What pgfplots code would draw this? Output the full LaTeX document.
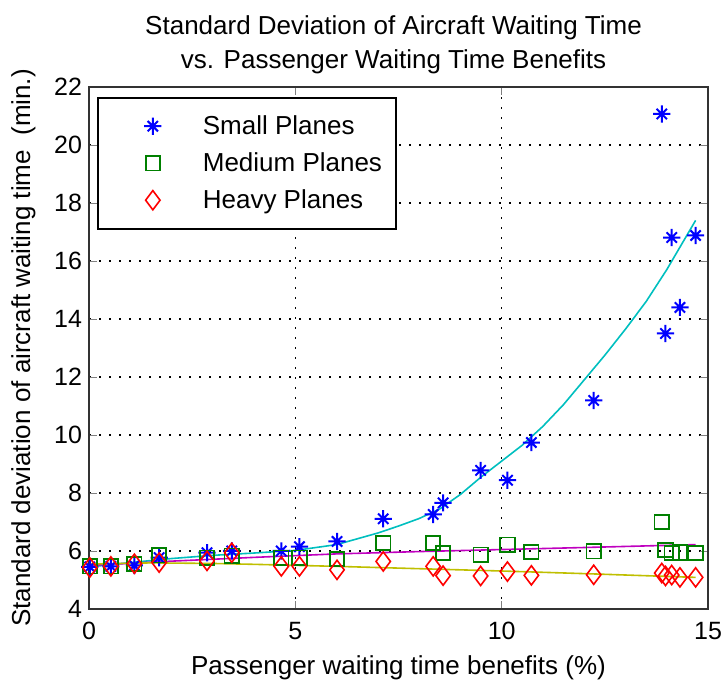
\documentclass[border=0pt]{standalone}
\usepackage{pgfplots}
\pgfplotsset{compat=1.18}
\usepackage{fontspec}
\setmainfont{Liberation Sans}

\definecolor{mblue}{rgb}{0,0,1}
\definecolor{mgreen}{rgb}{0,0.5,0}
\definecolor{mred}{rgb}{1,0,0}
\definecolor{mcyan}{rgb}{0,0.75,0.75}
\definecolor{mmagenta}{rgb}{0.75,0,0.75}
\definecolor{myellow}{rgb}{0.75,0.75,0}

% matlab-like '*' marker: a plus with a shorter cross
\pgfdeclareplotmark{mstar}{%
  \pgfpathmoveto{\pgfpoint{-\pgfplotmarksize}{0pt}}%
  \pgfpathlineto{\pgfpoint{\pgfplotmarksize}{0pt}}%
  \pgfpathmoveto{\pgfpoint{0pt}{-\pgfplotmarksize}}%
  \pgfpathlineto{\pgfpoint{0pt}{\pgfplotmarksize}}%
  \pgfpathmoveto{\pgfpoint{-0.6\pgfplotmarksize}{-0.6\pgfplotmarksize}}%
  \pgfpathlineto{\pgfpoint{0.6\pgfplotmarksize}{0.6\pgfplotmarksize}}%
  \pgfpathmoveto{\pgfpoint{-0.6\pgfplotmarksize}{0.6\pgfplotmarksize}}%
  \pgfpathlineto{\pgfpoint{0.6\pgfplotmarksize}{-0.6\pgfplotmarksize}}%
  \pgfusepathqstroke}

% legend image: one mark inside a wider slot
\pgfplotsset{mylegend/.style={legend image code/.code={%
  \path[draw=none, fill=none] (0pt,-1pt) rectangle (45.5pt,1pt);
  \draw[##1] plot[only marks] coordinates {(22.5pt,0pt)};}}}

\begin{document}
\begin{tikzpicture}
	\begin{axis}[
		scale only axis,
		width=309.5pt, height=261pt,
		xmin=0, xmax=15, ymin=4, ymax=22,
		xtick={0,5,10,15}, ytick={4,6,...,22},
		tick align=inside, major tick length=4pt,
		xtick pos=both, ytick pos=both,
		axis line style={line width=0.9pt, color=black!80},
		grid=major,
		major grid style={black, line width=0.8pt, dash pattern=on 0.8pt off 4.2pt},
		tick label style={font=\fontsize{12.5}{14}\selectfont},
		xticklabel style={yshift=-3pt},
		/pgf/number format/assume math mode=true,
		title={Standard Deviation of Aircraft Waiting Time\\vs. Passenger Waiting Time Benefits},
		title style={align=center, font=\fontsize{13}{17}\selectfont, at={(axis description cs:0.492,1.058)}, anchor=center},
		xlabel={Passenger waiting time benefits (\%)},
		xlabel style={font=\fontsize{13}{15}\selectfont, at={(axis description cs:0.5,-0.113)}, anchor=center},
		ylabel={Standard deviation of aircraft waiting time\ \ (min.)},
		ylabel style={font=\fontsize{13}{15}\selectfont, at={(axis description cs:-0.106,0.5)}, anchor=center},
		legend style={at={(axis description cs:0.013,0.981)}, anchor=north west,
			draw=black, line width=0.8pt, font=\fontsize{13}{15}\selectfont,
			inner xsep=5pt, inner ysep=5pt, row sep=0pt,
			cells={anchor=west, minimum height=18.5pt, inner sep=2.5pt}},
		]

		% small planes
		\addplot[only marks, mylegend, mark=mstar, mark size=4.3pt, color=mblue, line width=1pt] coordinates {
			(0.02,5.45) (0.53,5.47) (1.10,5.50) (1.70,5.77) (2.86,5.94) (3.46,6.00)
			(4.66,6.00) (5.10,6.15) (6.01,6.33) (7.13,7.11) (8.34,7.26) (8.58,7.66)
			(9.49,8.78) (10.14,8.44) (10.72,9.74) (12.23,11.19) (13.88,21.07)
			(13.97,13.50) (14.12,16.81) (14.32,14.40) (14.70,16.88)};

		% medium planes
		\addplot[only marks, mylegend, mark=square, mark size=3.6pt, color=mgreen, line width=0.9pt] coordinates {
			(0.02,5.47) (0.53,5.47) (1.10,5.55) (1.70,5.85) (2.86,5.77) (3.46,5.84)
			(4.66,5.77) (5.10,5.77) (6.01,5.72) (7.13,6.28) (8.34,6.28) (8.58,5.93)
			(9.49,5.87) (10.14,6.22) (10.72,5.96) (12.23,5.99) (13.88,7.00)
			(13.97,6.03) (14.12,5.93) (14.32,5.95) (14.70,5.93)};

		% heavy planes
		\addplot[only marks, mylegend, mark=diamond, mark size=4.8pt, color=mred, line width=0.8pt] coordinates {
			(0.02,5.43) (0.53,5.47) (1.10,5.56) (1.70,5.60) (2.86,5.66) (3.46,5.94)
			(4.66,5.47) (5.10,5.47) (6.01,5.35) (7.13,5.64) (8.34,5.47) (8.58,5.15)
			(9.49,5.14) (10.14,5.29) (10.72,5.16) (12.23,5.18) (13.88,5.24)
			(13.97,5.14) (14.12,5.17) (14.32,5.09) (14.70,5.09)};

		% fitted curves
		\addplot[color=mcyan, line width=0.8pt] coordinates {
			(0,5.45) (1,5.60) (2,5.74) (3,5.85) (4,5.93) (5,6.02) (6,6.22) (7,6.62)
			(7.5,6.86) (8,7.12) (8.5,7.45) (9,7.95) (9.5,8.55) (10,9.10) (10.5,9.65)
			(11,10.30) (11.5,11.05) (12,11.90) (12.5,12.75) (13,13.65) (13.5,14.60)
			(14,15.70) (14.7,17.40)};
		\addplot[color=mmagenta, line width=0.8pt] coordinates {
			(0,5.50) (2,5.65) (4,5.78) (6,5.90) (8,5.98) (10,6.05) (12,6.12) (14.7,6.22)};
		\addplot[color=myellow, line width=0.8pt] coordinates {
			(0,5.55) (1.5,5.59) (3,5.57) (4,5.54) (6,5.47) (8,5.39) (10,5.31) (12,5.22) (14.7,5.09)};

		\legend{Small Planes, Medium Planes, Heavy Planes}
	\end{axis}
	\pgfresetboundingbox
	\path (-44.5pt,-37.5pt) rectangle (317pt,304.5pt);
\end{tikzpicture}
\end{document}
